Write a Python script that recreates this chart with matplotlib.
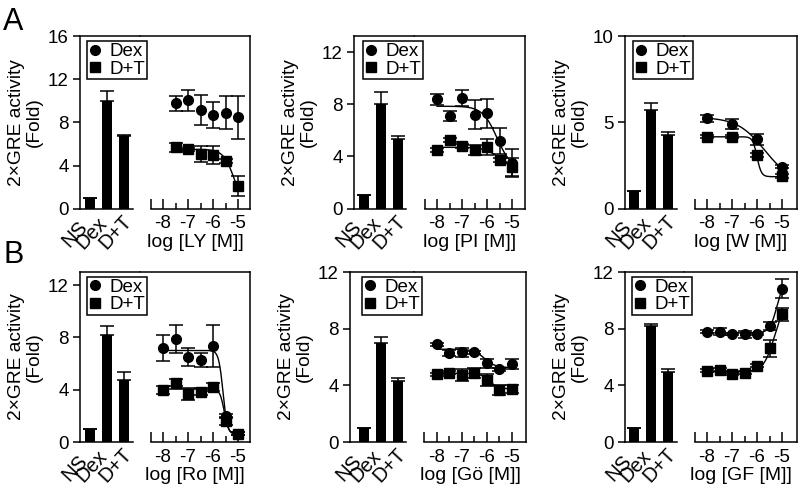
import numpy as np
import matplotlib
matplotlib.use("Agg")
import matplotlib.pyplot as plt
import matplotlib.transforms as mtransforms
from matplotlib.lines import Line2D
from matplotlib.ticker import FixedLocator

plt.rcParams["font.family"] = ["Liberation Sans", "DejaVu Sans"]
plt.rcParams["font.size"] = 13
plt.rcParams["axes.linewidth"] = 1.1

W, H = 800, 494

bar_labels = ["NS", "Dex", "D+T"]
dose_ticks = [-8, -7, -6, -5]
dose_ticklabels = ["-8", "-7", "-6", "-5"]

# one entry per panel: row A (LY, PI, W), row B (Ro, Go, GF)
drugs = ["LY", "PI", "W", "Ro", "Gö", "GF"]
ymax = [16, 13.2, 10, 13, 12, 12]
yticks = [[0, 4, 8, 12, 16], [0, 4, 8, 12], [0, 5, 10],
          [0, 4, 8, 12], [0, 4, 8, 12], [0, 4, 8, 12]]

bar_vals = [[1.0, 10.0, 6.7], [1.0, 8.0, 5.3], [1.0, 5.75, 4.27],
            [1.0, 8.2, 4.75], [1.0, 6.96, 4.31], [1.0, 8.2, 4.97]]
bar_errs = [[0, 0.9, 0.15], [0, 0.95, 0.3], [0, 0.4, 0.2],
            [0, 0.7, 0.6], [0, 0.45, 0.2], [0, 0.1, 0.15]]

# dose-response points (log M)
doses = [
    [-7.5, -7, -6.5, -6, -5.5, -5],
    [-8, -7.5, -7, -6.5, -6, -5.5, -5],
    [-8, -7, -6, -5],
    [-8, -7.5, -7, -6.5, -6, -5.5, -5],
    [-8, -7.5, -7, -6.5, -6, -5.5, -5],
    [-8, -7.5, -7, -6.5, -6, -5.5, -5],
]
dex = [
    [9.8, 10.05, 9.2, 8.7, 8.9, 8.5],
    [8.37, 7.1, 8.5, 7.2, 7.3, 5.2, 3.5],
    [5.24, 4.91, 4.02, 2.43],
    [7.17, 7.88, 6.48, 6.28, 7.35, 1.96, 0.64],
    [6.91, 6.26, 6.33, 6.33, 5.55, 5.13, 5.48],
    [7.78, 7.78, 7.62, 7.62, 7.62, 8.18, 10.83],
]
dex_err = [
    [0.7, 1.0, 1.4, 1.2, 1.55, 2.0],
    [0.4, 0.4, 0.6, 1.1, 1.1, 1.0, 1.1],
    [0.2, 0.3, 0.3, 0.1],
    [1.0, 1.05, 0.7, 0.55, 1.6, 0.15, 0.1],
    [0.1, 0.2, 0.3, 0.1, 0.3, 0.1, 0.35],
    [0.1, 0.25, 0.1, 0.25, 0.1, 0.3, 0.7],
]
dt = [
    [5.7, 5.5, 5.1, 4.97, 4.44, 2.1],
    [4.47, 5.23, 4.8, 4.47, 4.72, 3.75, 3.19],
    [4.17, 4.17, 3.1, 1.9],
    [3.99, 4.55, 3.69, 3.86, 4.2, 1.58, 0.64],
    [4.78, 4.9, 4.73, 4.9, 4.38, 3.68, 3.75],
    [5.04, 5.09, 4.8, 4.9, 5.39, 6.61, 9.02],
]
dt_err = [
    [0.4, 0.15, 0.75, 0.8, 0.2, 0.9],
    [0.15, 0.15, 0.15, 0.4, 0.6, 0.15, 0.7],
    [0.1, 0.1, 0.1, 0.1],
    [0.3, 0.3, 0.45, 0.3, 0.3, 0.3, 0.1],
    [0.1, 0.1, 0.4, 0.35, 0.4, 0.35, 0.3],
    [0.1, 0.1, 0.1, 0.1, 0.1, 0.6, 0.45],
]

# sigmoid fit parameters: (low-dose level, high-dose level, logEC50, hill)
fit_dex = [None, (7.85, 3.0, -5.6, 1.5), (5.3, 1.5, -5.7, 0.8),
           (7.0, 0.6, -5.6, 5.0), (6.55, 5.25, -6.1, 2.0), (7.7, 11.5, -5.2, 3.0)]
fit_dt = [(5.5, 0.0, -5.15, 2.0), (4.7, 3.0, -5.5, 1.5), (4.17, 1.85, -6.0, 5.0),
          (4.05, 0.6, -5.55, 5.0), (4.85, 3.75, -5.9, 2.5), (4.95, 10.0, -5.3, 2.0)]

# panel boxes in pixels: left spine, right spine, x of "-8" tick, top, bottom
lefts = [80, 354, 625, 80, 350, 625]
rights = [250, 525, 797, 250, 526, 797]
m8 = [163, 437, 707, 163, 437, 707]
tops = [36.5, 36.5, 36.5, 272, 272, 272]
bottoms = [208.5, 208.5, 208.5, 442, 442, 442]
leg_dx = [7, 9, 8, 7, 12, 7]

BAR_PX = 17.0   # px between bars
DEC_PX = 25.0   # px per decade

# shifts (px) of the rotated bar labels, as laid out in the original
lab_dx = [1, 4, 12]
lab_dy = [-9, -5, -3]


def sigmoid(x, p):
    lo, hi, c, h = p
    return hi + (lo - hi) / (1 + 10 ** (h * (x - c)))


fig = plt.figure(figsize=(W / 100, H / 100), dpi=100)

for i in range(6):
    ns = m8[i] - 73
    split = m8[i] - 23
    y0 = 1 - bottoms[i] / H
    hh = (bottoms[i] - tops[i]) / H

    axb = fig.add_axes([lefts[i] / W, y0, (split - lefts[i]) / W, hh])
    axd = fig.add_axes([split / W, y0, (rights[i] - split) / W, hh], sharey=axb)
    axb.set_zorder(3)

    # bars
    x = np.arange(3)
    axb.bar(x, bar_vals[i], width=0.56, color="black")
    axb.errorbar(x, bar_vals[i], yerr=[np.zeros(3), bar_errs[i]], fmt="none",
                 ecolor="black", elinewidth=1.1, capsize=5, capthick=1.1)
    axb.set_xlim(-(ns - lefts[i]) / BAR_PX, (split - ns) / BAR_PX)
    axb.set_ylim(0, ymax[i])
    axb.set_yticks(yticks[i])
    axb.set_xticks(x)
    axb.set_xticklabels(bar_labels, rotation=47, ha="right", va="top", fontsize=14.5)
    axb.tick_params(axis="x", length=0, pad=0)
    for lab, dx, dy in zip(axb.get_xticklabels(), lab_dx, lab_dy):
        lab.set_transform(lab.get_transform() +
                          mtransforms.ScaledTranslation(dx / 100, dy / 100, fig.dpi_scale_trans))
    axb.tick_params(axis="y", direction="out", length=5, width=1.1, pad=3, labelsize=13.5)
    axb.spines["right"].set_visible(False)
    axb.spines["bottom"].set_bounds(axb.get_xlim()[0], 2.5)
    axb.set_ylabel("2×GRE activity\n(Fold)", fontsize=13.8, linespacing=1.05, labelpad=4)

    # dose response
    xd = doses[i]
    xs = np.linspace(xd[0], xd[-1], 300)
    if fit_dex[i] is not None:
        axd.plot(xs, sigmoid(xs, fit_dex[i]), color="black", lw=1.0)
    axd.plot(xs, sigmoid(xs, fit_dt[i]), color="black", lw=1.0)
    axd.errorbar(xd, dex[i], yerr=dex_err[i], fmt="o", color="black", ms=7,
                 elinewidth=1.1, capsize=5, capthick=1.1, zorder=3)
    axd.errorbar(xd, dt[i], yerr=dt_err[i], fmt="s", color="black", ms=7,
                 elinewidth=1.1, capsize=5, capthick=1.1, zorder=3)
    axd.set_xlim(-8 - 23 / DEC_PX, -8 + (rights[i] - m8[i]) / DEC_PX)
    axd.xaxis.set_major_locator(FixedLocator([-8.5] + dose_ticks))
    axd.xaxis.set_minor_locator(FixedLocator([-7.5, -6.5, -5.5]))
    axd.set_xticklabels([""] + dose_ticklabels)
    axd.tick_params(axis="x", which="major", direction="in", length=7, width=1.1,
                    pad=5, labelsize=13.5)
    axd.tick_params(axis="x", which="minor", direction="in", length=4, width=1.1)
    axd.tick_params(axis="y", left=False, labelleft=False)
    axd.spines["left"].set_visible(False)
    axd.spines["bottom"].set_bounds(-8.5, axd.get_xlim()[1])
    axd.set_xlabel(f"log [{drugs[i]} [M]]", fontsize=14, labelpad=1)

    handles = [Line2D([], [], marker="o", ls="none", color="black", ms=7),
               Line2D([], [], marker="s", ls="none", color="black", ms=7)]
    anchor = ((lefts[i] + leg_dx[i]) / W, 1 - (tops[i] + 5) / H)
    leg = axb.legend(handles, ["Dex", "D+T"], loc="upper left", bbox_to_anchor=anchor,
                     bbox_transform=fig.transFigure, borderaxespad=0,
                     frameon=True, fancybox=False, edgecolor="black",
                     framealpha=1, handlelength=0.7, handletextpad=0.4,
                     labelspacing=0.0, borderpad=0.1, fontsize=13.5)
    leg.get_frame().set_linewidth(1.1)

fig.text(3 / W, 1 - 30 / H, "A", fontsize=22, ha="left", va="baseline")
fig.text(3 / W, 1 - 263 / H, "B", fontsize=22, ha="left", va="baseline")

fig.savefig("out.png", dpi=100)
